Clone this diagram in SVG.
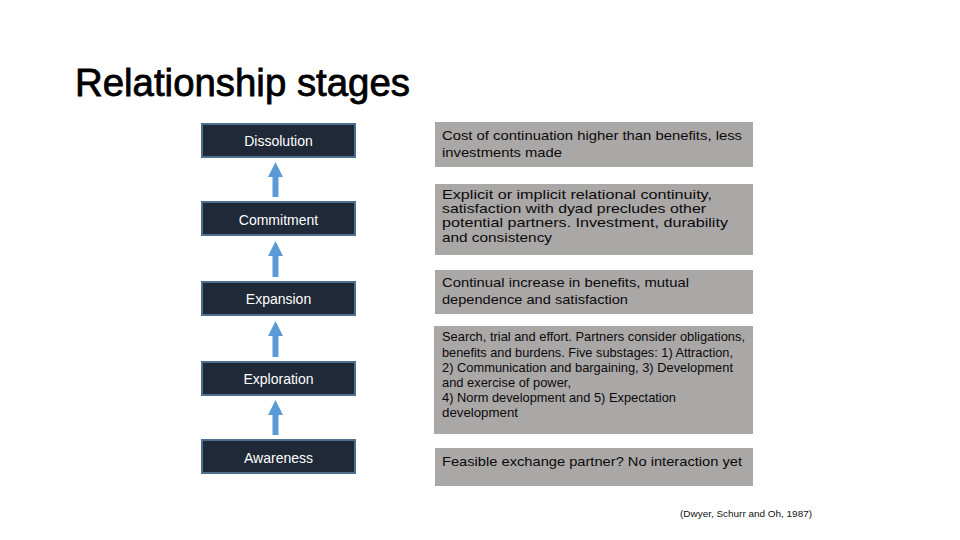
<svg xmlns="http://www.w3.org/2000/svg" width="960" height="540" viewBox="0 0 960 540">
<defs>
<style>
.stage rect{fill:#1f2937;stroke:#4f6f8f;stroke-width:2}
.stage text{fill:#ffffff;font-family:"Liberation Sans",Arial,sans-serif;font-size:14px;text-anchor:middle}
.desc rect{fill:#aaa7a7}
.desc text{fill:#0a0a0a;font-family:"Liberation Sans",Arial,sans-serif;font-size:13.5px}
.arrow{fill:#5b9bd5}
</style>
</defs>
<rect width="960" height="540" fill="#ffffff"/>
<text x="75" y="96" font-family="'Liberation Sans',Arial,sans-serif" font-size="38" fill="#000" stroke="#000" stroke-width="0.8" textLength="335" lengthAdjust="spacingAndGlyphs">Relationship stages</text>

<g id="dissolution" class="stage"><rect x="202" y="124" width="153" height="33"/><text x="278.5" y="146">Dissolution</text></g>
<g id="commitment" class="stage"><rect x="202" y="202" width="153" height="33"/><text x="278.5" y="225">Commitment</text></g>
<g id="expansion" class="stage"><rect x="202" y="282" width="153" height="33"/><text x="278.5" y="304">Expansion</text></g>
<g id="exploration" class="stage"><rect x="202" y="362" width="153" height="33"/><text x="278.5" y="384">Exploration</text></g>
<g id="awareness" class="stage"><rect x="202" y="440" width="153" height="33"/><text x="278.5" y="463">Awareness</text></g>

<g id="connectors">
<path class="arrow" d="M275.5 162 L283 177 L278.5 177 L278.5 197 L272.5 197 L272.5 177 L268 177 Z"/>
<path class="arrow" d="M275.5 241 L283 256 L278.5 256 L278.5 277 L272.5 277 L272.5 256 L268 256 Z"/>
<path class="arrow" d="M275.5 321 L283 336 L278.5 336 L278.5 357 L272.5 357 L272.5 336 L268 336 Z"/>
<path class="arrow" d="M275.5 400 L283 415 L278.5 415 L278.5 435 L272.5 435 L272.5 415 L268 415 Z"/>
</g>

<g id="desc-dissolution" class="desc"><rect x="435" y="122" width="318" height="45"/>
<text x="442" y="140" textLength="300" lengthAdjust="spacingAndGlyphs">Cost of continuation higher than benefits, less</text>
<text x="442" y="157" textLength="120" lengthAdjust="spacingAndGlyphs">investments made</text></g>

<g id="desc-commitment" class="desc"><rect x="435" y="184" width="318" height="71"/>
<text x="442" y="199" font-size="14.5" textLength="270" lengthAdjust="spacingAndGlyphs">Explicit or implicit relational continuity,</text>
<text x="442" y="213" font-size="14.5" textLength="264" lengthAdjust="spacingAndGlyphs">satisfaction with dyad precludes other</text>
<text x="442" y="227" font-size="14.5" textLength="286" lengthAdjust="spacingAndGlyphs">potential partners. Investment, durability</text>
<text x="442" y="242" font-size="14.5" textLength="110" lengthAdjust="spacingAndGlyphs">and consistency</text></g>

<g id="desc-expansion" class="desc"><rect x="435" y="270" width="318" height="44"/>
<text x="442" y="287" textLength="247" lengthAdjust="spacingAndGlyphs">Continual increase in benefits, mutual</text>
<text x="442" y="304" textLength="186" lengthAdjust="spacingAndGlyphs">dependence and satisfaction</text></g>

<g id="desc-exploration" class="desc"><rect x="434" y="326" width="319" height="108"/>
<text x="442" y="341" font-size="12" textLength="303" lengthAdjust="spacingAndGlyphs">Search, trial and effort. Partners consider obligations,</text>
<text x="442" y="357" font-size="12" textLength="291" lengthAdjust="spacingAndGlyphs">benefits and burdens. Five substages: 1) Attraction,</text>
<text x="442" y="372" font-size="12" textLength="291" lengthAdjust="spacingAndGlyphs">2) Communication and bargaining, 3) Development</text>
<text x="442" y="387" font-size="12" textLength="129" lengthAdjust="spacingAndGlyphs">and exercise of power,</text>
<text x="442" y="402" font-size="12" textLength="234" lengthAdjust="spacingAndGlyphs">4) Norm development and 5) Expectation</text>
<text x="442" y="417" font-size="12" textLength="76" lengthAdjust="spacingAndGlyphs">development</text></g>

<g id="desc-awareness" class="desc"><rect x="435" y="448" width="318" height="38"/>
<text x="442" y="466" textLength="300" lengthAdjust="spacingAndGlyphs">Feasible exchange partner? No interaction yet</text></g>

<text x="680" y="517" font-family="'Liberation Sans',Arial,sans-serif" font-size="9" fill="#111" textLength="132" lengthAdjust="spacingAndGlyphs">(Dwyer, Schurr and Oh, 1987)</text>
</svg>
